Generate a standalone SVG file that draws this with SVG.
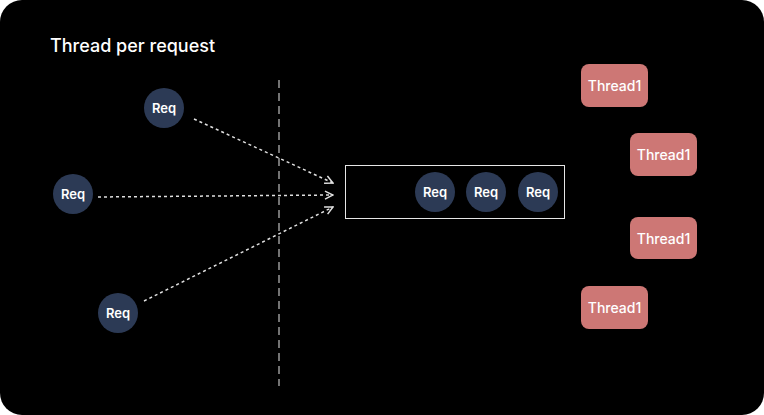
<svg xmlns="http://www.w3.org/2000/svg" width="764" height="415" viewBox="0 0 764 415">
<defs>
<style>
.req circle{fill:#2c3a55}
.req text{fill:#fff;font-family:Inter,"Noto Sans",sans-serif;font-size:13px;font-weight:600;text-anchor:middle}
.th rect{fill:#cd7775}
.th text{fill:#fff;font-family:Inter,"Noto Sans",sans-serif;font-size:14px;font-weight:500;text-anchor:middle}
.arrow{fill:none;stroke:#e0e0e0;stroke-width:1.5;stroke-dasharray:3 3}
</style>
<marker id="ah" viewBox="0 0 10 10" refX="9" refY="5" markerWidth="10" markerHeight="10" markerUnits="userSpaceOnUse" orient="auto">
<path d="M1,1 L9,5 L1,9" fill="none" stroke="#e0e0e0" stroke-width="1.5"/>
</marker>
</defs>
<rect x="0" y="0" width="764" height="415" fill="#fff"/>
<rect x="0" y="0" width="764" height="415" rx="22" fill="#000"/>
<text x="50" y="52" fill="#fff" font-family="Inter,'Noto Sans',sans-serif" font-size="18" font-weight="500">Thread per request</text>
<line x1="279" y1="80" x2="279" y2="386" stroke="#e6e6e6" stroke-width="1" stroke-dasharray="8 5"/>
<g id="queue"><rect x="345.5" y="165.5" width="219" height="53" fill="none" stroke="#e6e6e6" stroke-width="1"/></g>
<g id="connectors">
<line class="arrow" x1="194" y1="119" x2="333" y2="183" marker-end="url(#ah)"/>
<line class="arrow" x1="98" y1="197" x2="333" y2="195" marker-end="url(#ah)"/>
<line class="arrow" x1="144" y1="301" x2="333" y2="207" marker-end="url(#ah)"/>
</g>
<g id="req1" class="req"><circle cx="164" cy="108" r="20"/><text x="164" y="113">Req</text></g>
<g id="req2" class="req"><circle cx="73" cy="194" r="20"/><text x="73" y="199">Req</text></g>
<g id="req3" class="req"><circle cx="118" cy="313" r="20"/><text x="118" y="318">Req</text></g>
<g id="req4" class="req"><circle cx="435" cy="192" r="20"/><text x="435" y="197">Req</text></g>
<g id="req5" class="req"><circle cx="486" cy="192" r="20"/><text x="486" y="197">Req</text></g>
<g id="req6" class="req"><circle cx="538" cy="192" r="20"/><text x="538" y="197">Req</text></g>
<g id="thread1" class="th"><rect x="581" y="64" width="67" height="43" rx="8"/><text x="614.5" y="91">Thread1</text></g>
<g id="thread2" class="th"><rect x="630" y="133" width="67" height="43" rx="8"/><text x="663.5" y="160">Thread1</text></g>
<g id="thread3" class="th"><rect x="630" y="217" width="67" height="42" rx="8"/><text x="663.5" y="243.5">Thread1</text></g>
<g id="thread4" class="th"><rect x="581" y="286" width="67" height="43" rx="8"/><text x="614.5" y="313">Thread1</text></g>
</svg>
